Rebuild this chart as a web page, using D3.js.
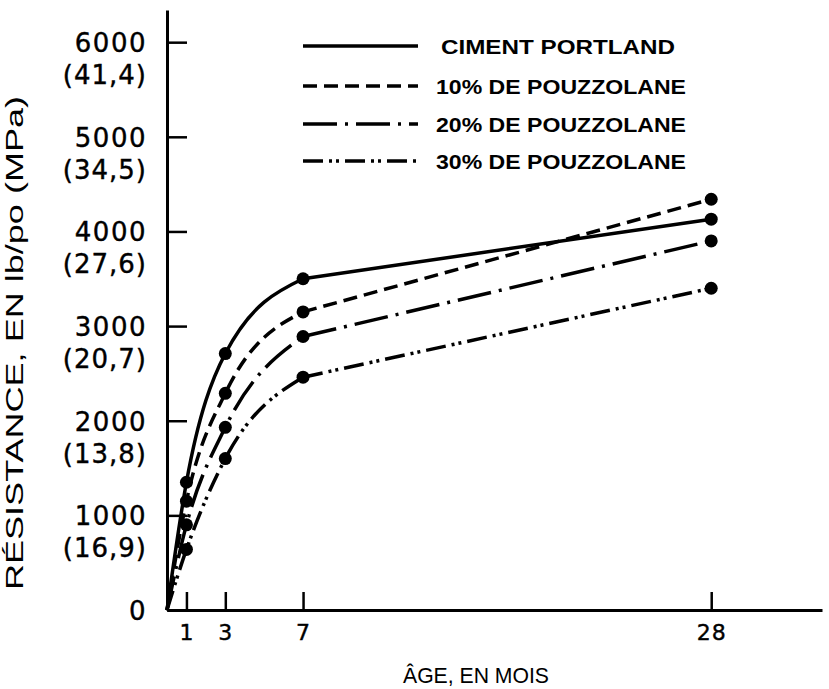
<!DOCTYPE html>
<html>
<head>
<meta charset="utf-8">
<script src="https://cdn.jsdelivr.net/npm/d3@7"></script>
<style>
  body { margin: 0; background: #fff; }
  svg { display: block; }
</style>
</head>
<body>
<svg id="chart" width="829" height="689"></svg>
<script>
// age in months
var ages = [0, 1, 3, 7, 28];
var seriesNames = ["CIMENT PORTLAND", "10% DE POUZZOLANE", "20% DE POUZZOLANE", "30% DE POUZZOLANE"];
// strength in lb/po
var portland = [0, 1350, 2710, 3500, 4130];
var pozz10 = [0, 1150, 2290, 3150, 4340];
var pozz20 = [0, 900, 1930, 2890, 3900];
var pozz30 = [0, 640, 1600, 2460, 3400];

var yTicks = [0, 1000, 2000, 3000, 4000, 5000, 6000];
var yTickMpa = ["", "(16,9)", "(13,8)", "(20,7)", "(27,6)", "(34,5)", "(41,4)"];
var xTicks = [1, 3, 7, 28];

var dashes = [null, "14,7", "34,8,3,8", "20,6,3,4,3,6"];

var svg = d3.select("#chart");

var x = d3.scaleLinear().domain([0, 33.7]).range([167, 822]);
var y = d3.scaleLinear().domain([0, 6340]).range([610, 10]);

var allSeries = [portland, pozz10, pozz20, pozz30];

// y axis
var yAxis = svg.append("g")
  .attr("transform", "translate(" + x(0) + ",0)")
  .call(d3.axisLeft(y).tickValues(yTicks).tickSizeInner(-20).tickSizeOuter(0).tickPadding(20).tickFormat(""));
yAxis.select(".domain").attr("stroke", "#000").attr("stroke-width", 3);
yAxis.selectAll(".tick line").attr("stroke", "#000").attr("stroke-width", 2.5);
yAxis.selectAll(".tick text").remove();

var yLab = yAxis.selectAll(".tick").append("g")
  .attr("font-family", "'DejaVu Sans', sans-serif")
  .attr("font-size", 26)
  .attr("fill", "#000")
  .attr("stroke", "#000")
  .attr("stroke-width", 0.4)
  .attr("text-anchor", "end");
yLab.append("text")
  .attr("x", -20)
  .attr("dy", "0.36em")
  .attr("letter-spacing", 1.5)
  .text(function(d) { return d; });
yLab.append("text")
  .attr("x", -20)
  .attr("y", 32)
  .attr("dy", "0.36em")
  .attr("letter-spacing", 1)
  .text(function(d, i) { return yTickMpa[i]; });

// x axis
var xAxis = svg.append("g")
  .attr("transform", "translate(0," + y(0) + ")")
  .call(d3.axisBottom(x).tickValues(xTicks).tickSizeInner(-18).tickSizeOuter(0).tickPadding(14));
xAxis.select(".domain").attr("stroke", "#000").attr("stroke-width", 3);
xAxis.selectAll(".tick line").attr("stroke", "#000").attr("stroke-width", 2.5);
xAxis.selectAll(".tick text")
  .attr("font-family", "'DejaVu Sans', sans-serif")
  .attr("font-size", 22)
  .attr("fill", "#000")
  .attr("stroke", "#000")
  .attr("stroke-width", 0.4)
  .attr("letter-spacing", 1);

// axis titles
svg.append("text")
  .attr("transform", "translate(23,343) rotate(-90)")
  .attr("text-anchor", "middle")
  .attr("font-family", "'Liberation Sans', sans-serif")
  .attr("font-size", 23)
  .attr("textLength", 494)
  .attr("lengthAdjust", "spacingAndGlyphs")
  .text("RÉSISTANCE, EN lb/po (MPa)");

svg.append("text")
  .attr("x", 476)
  .attr("y", 683)
  .attr("text-anchor", "middle")
  .attr("font-family", "'Liberation Sans', sans-serif")
  .attr("font-size", 22)
  .attr("textLength", 146)
  .attr("lengthAdjust", "spacingAndGlyphs")
  .text("ÂGE, EN MOIS");

// curves: smooth rise up to 7 months, then near straight to 28
var curveUp = d3.line()
  .x(function(d) { return x(d[0]); })
  .y(function(d) { return y(d[1]); })
  .curve(d3.curveMonotoneX);
var straight = d3.line()
  .x(function(d) { return x(d[0]); })
  .y(function(d) { return y(d[1]); });

allSeries.forEach(function(vals, i) {
  var pts = ages.map(function(a, j) { return [a, vals[j]]; });
  [curveUp(pts.slice(0, 4)), straight(pts.slice(3))].forEach(function(p) {
    svg.append("path")
      .attr("d", p)
      .attr("fill", "none")
      .attr("stroke", "#000")
      .attr("stroke-width", 3.5)
      .attr("stroke-dasharray", dashes[i]);
  });
  svg.selectAll(null)
    .data(pts.slice(1))
    .enter().append("circle")
    .attr("cx", function(d) { return x(d[0]); })
    .attr("cy", function(d) { return y(d[1]); })
    .attr("r", 6.5)
    .attr("fill", "#000");
});

// legend
var legendY = [46, 86, 124, 161];
var legend = svg.append("g")
  .selectAll("g")
  .data(seriesNames)
  .enter().append("g")
  .attr("transform", function(d, i) { return "translate(0," + legendY[i] + ")"; });

legend.append("line")
  .attr("x1", 303)
  .attr("x2", 418)
  .attr("stroke", "#000")
  .attr("stroke-width", 3.5)
  .attr("stroke-dasharray", function(d, i) { return dashes[i]; });

legend.append("text")
  .attr("x", function(d, i) { return i == 0 ? 441 : 436; })
  .attr("dy", "0.36em")
  .attr("font-family", "'Liberation Sans', sans-serif")
  .attr("font-weight", "bold")
  .attr("font-size", 21)
  .attr("textLength", function(d, i) { return i == 0 ? 234 : 250; })
  .attr("lengthAdjust", "spacingAndGlyphs")
  .text(function(d) { return d; });
</script>
</body>
</html>
